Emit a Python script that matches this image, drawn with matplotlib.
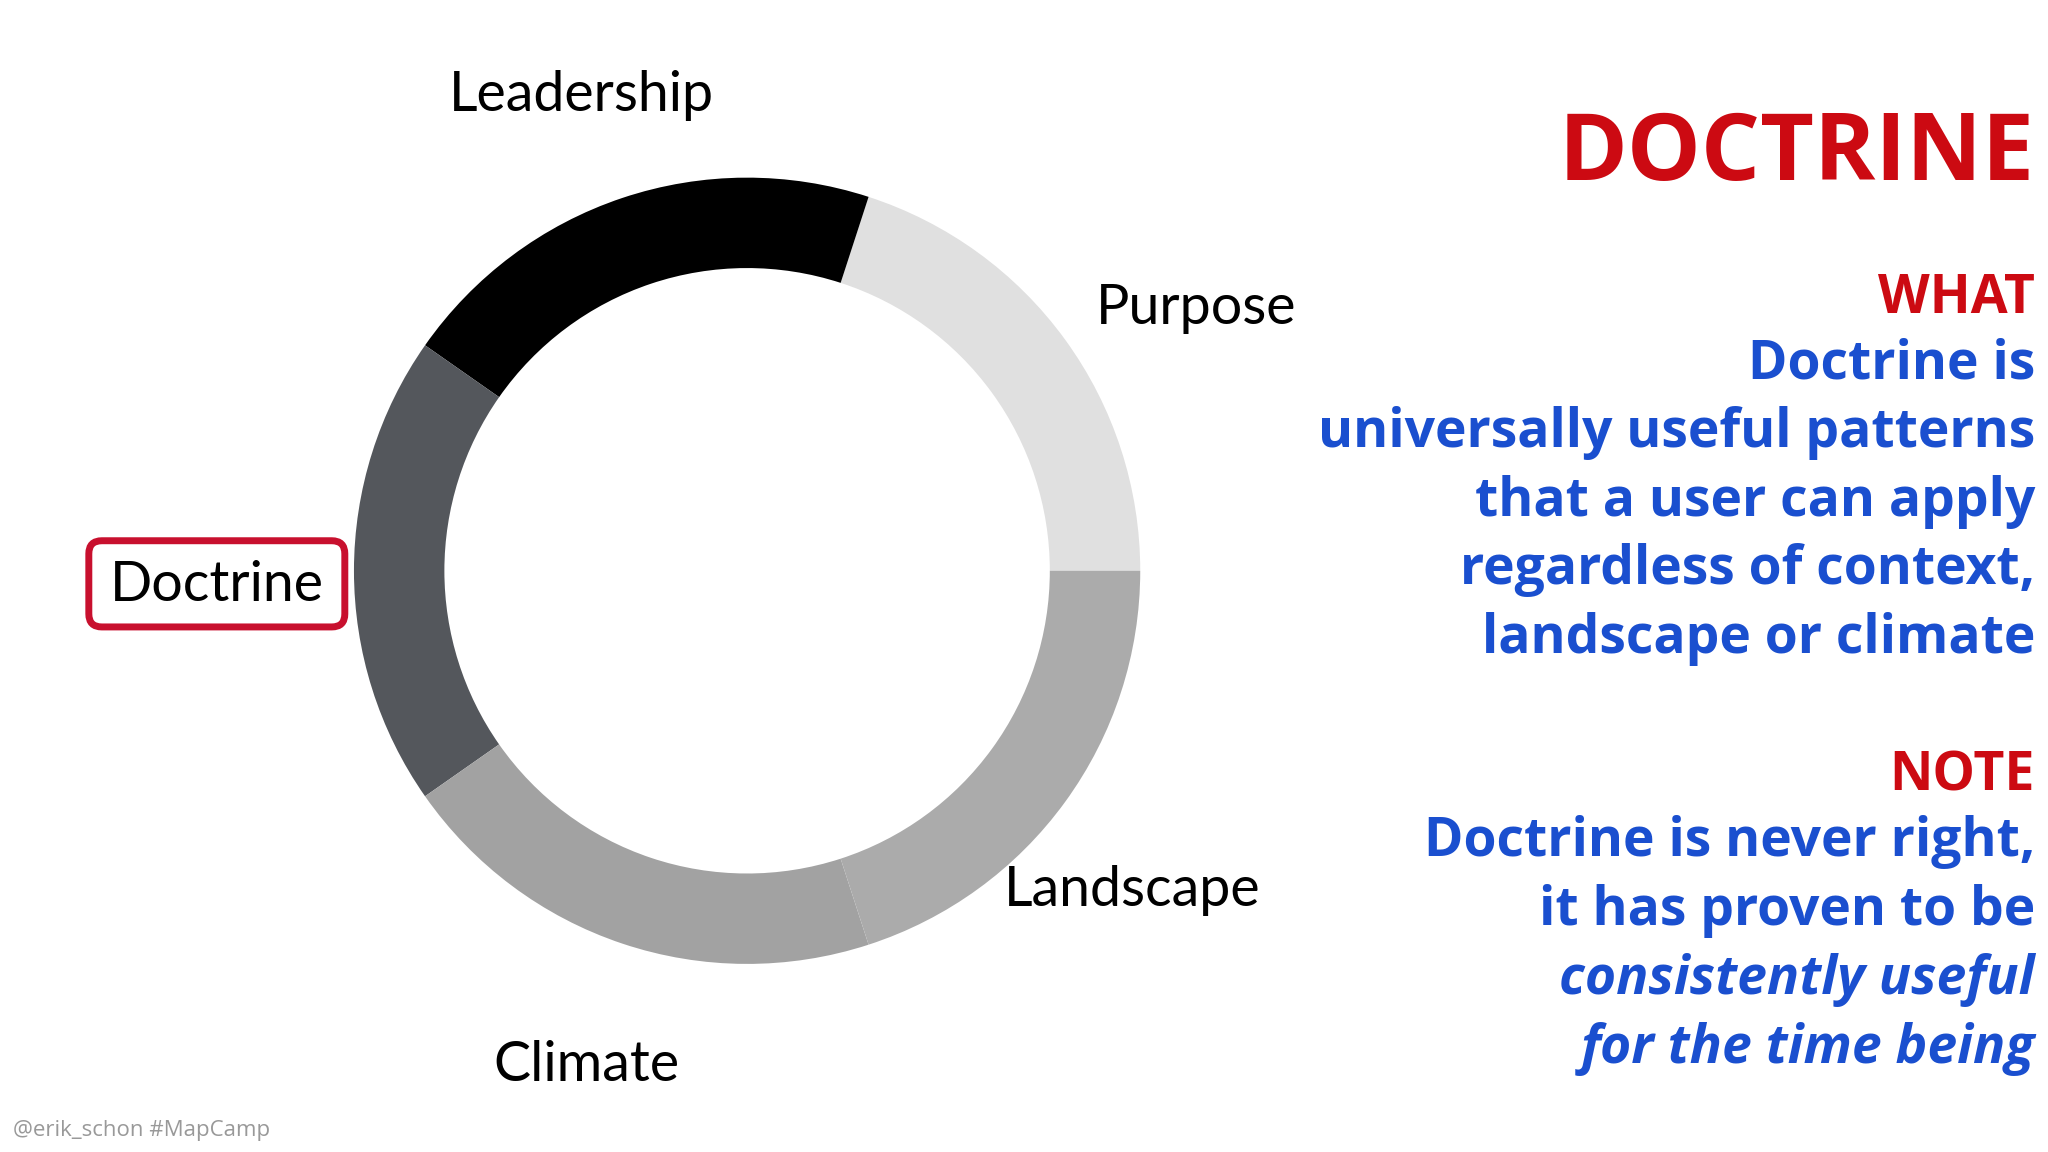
import matplotlib
matplotlib.use("Agg")
import matplotlib.pyplot as plt
from matplotlib.patches import FancyBboxPatch

segments = ["Purpose", "Leadership", "Doctrine", "Climate", "Landscape"]
values = [72, 73, 70, 73, 72]
colors = ["#e0e0e0", "#000000", "#54575c", "#a2a2a2", "#ababab"]

what_lines = ["Doctrine is", "universally useful patterns", "that a user can apply",
              "regardless of context,", "landscape or climate"]
note_lines = ["Doctrine is never right,", "it has proven to be"]
note_italic = ["consistently useful", "for the time being"]

W, H = 1568, 882
fig = plt.figure(figsize=(20.48, 11.52), dpi=100)
fig.patch.set_facecolor("white")
ax = fig.add_axes([0, 0, 1, 1])
ax.set_xlim(0, W); ax.set_ylim(H, 0); ax.axis("off")

cx, cy, r = 572, 437, 301
pax = fig.add_axes([(cx - r) / W, 1 - (cy + r) / H, 2 * r / W, 2 * r / H])
pax.pie(values, colors=colors, startangle=0, counterclock=True, radius=1,
        wedgeprops=dict(width=0.23, linewidth=0))
pax.set_xlim(-1, 1); pax.set_ylim(-1, 1)
pax.set_aspect("equal"); pax.axis("off")

lab = dict(fontfamily="Lato", fontsize=40, color="black")
ax.text(445, 85, "Leadership", ha="center", va="baseline", **lab)
ax.text(916, 248, "Purpose", ha="center", va="baseline", **lab)
ax.text(166, 460, "Doctrine", ha="center", va="baseline", **lab)
ax.text(867, 694, "Landscape", ha="center", va="baseline", **lab)
ax.text(449, 828, "Climate", ha="center", va="baseline", **lab)
ax.add_patch(FancyBboxPatch((68, 414), 196, 66, boxstyle="round,pad=0,rounding_size=10",
                            fill=False, edgecolor="#c8102e", linewidth=5))

red, blue = "#cc0a12", "#1a4fcf"
fs = 38.5
ax.text(1558, 138, "DOCTRINE", ha="right", va="baseline", color=red,
        fontfamily="Open Sans", fontweight="bold", fontsize=67)
ax.text(1558, 240, "WHAT", ha="right", va="baseline", color=red,
        fontfamily="Open Sans", fontweight="bold", fontsize=fs)
for i, t in enumerate(what_lines):
    ax.text(1558, 290 + i * 52.5, t, ha="right", va="baseline", color=blue,
            fontfamily="Open Sans", fontweight="bold", fontsize=fs)
ax.text(1558, 605, "NOTE", ha="right", va="baseline", color=red,
        fontfamily="Open Sans", fontweight="bold", fontsize=fs)
for i, t in enumerate(note_lines):
    ax.text(1558, 655 + i * 53, t, ha="right", va="baseline", color=blue,
            fontfamily="Open Sans", fontweight="bold", fontsize=fs)
for i, t in enumerate(note_italic):
    ax.text(1558, 761 + i * 53, t, ha="right", va="baseline", color=blue,
            fontfamily="Open Sans", fontweight="bold", fontstyle="italic", fontsize=fs)
ax.text(10, 870, "@erik_schon #MapCamp", ha="left", va="baseline", color="#999999",
        fontfamily="Open Sans", fontsize=16)

fig.savefig("out.png", dpi=100)
